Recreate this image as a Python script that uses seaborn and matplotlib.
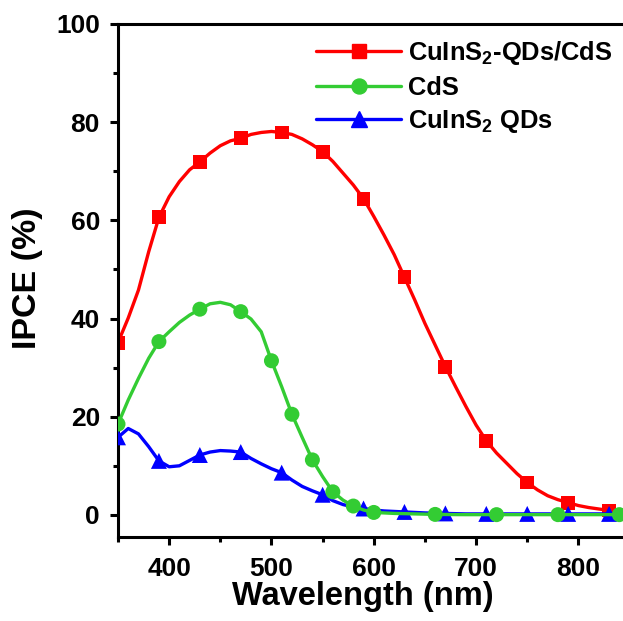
import matplotlib
matplotlib.use("Agg")
import matplotlib.pyplot as plt
from matplotlib.lines import Line2D
from matplotlib.ticker import MultipleLocator
import seaborn as sns

# ---- data ----
wavelength = list(range(350, 851, 10))

red_line = [35.1, 40.1, 45.8, 53.6, 60.6, 64.8, 67.9, 70.3, 71.9, 73.7, 75.2, 76.2, 76.7,
            77.5, 77.9, 78.1, 77.9, 77.5, 76.6, 75.4, 74.0, 72.0, 69.6, 67.2, 64.4, 60.8,
            57.0, 53.0, 48.4, 43.8, 39.0, 34.6, 30.2, 26.1, 22.1, 18.3, 15.1, 12.6, 10.5,
            8.4, 6.6, 5.1, 3.9, 3.1, 2.5, 1.9, 1.5, 1.2, 0.9, 0.6, 0.4]
green_line = [18.5, 23.4, 27.8, 31.9, 35.3, 37.3, 39.2, 40.7, 41.9, 43.0, 43.3, 42.8, 41.4,
              39.9, 37.3, 31.4, 26.1, 20.5, 15.8, 11.2, 7.8, 4.7, 3.0, 1.8, 1.0, 0.5,
              0.4, 0.3, 0.25, 0.2, 0.15, 0.1, 0.08, 0.06, 0.05, 0.05, 0.05, 0.05, 0.05,
              0.05, 0.05, 0.05, 0.05, 0.05, 0.05, 0.05, 0.05, 0.05, 0.05, 0.05, 0.05]
blue_line = [15.8, 17.6, 16.5, 13.9, 11.0, 9.8, 10.0, 11.1, 12.2, 12.8, 13.1, 13.0, 12.8,
             11.5, 10.4, 9.4, 8.6, 7.1, 5.8, 4.9, 4.1, 2.9, 2.1, 1.6, 1.3, 1.0,
             0.8, 0.7, 0.6, 0.5, 0.4, 0.35, 0.3, 0.25, 0.2, 0.2, 0.2, 0.2, 0.2,
             0.2, 0.2, 0.2, 0.2, 0.2, 0.2, 0.2, 0.2, 0.2, 0.2, 0.2, 0.2]

red_mx = [350, 390, 430, 470, 510, 550, 590, 630, 670, 710, 750, 790, 830]
red_my = [35.1, 60.6, 71.9, 76.7, 77.9, 74.0, 64.4, 48.4, 30.2, 15.1, 6.6, 2.5, 0.9]
green_mx = [350, 390, 430, 470, 500, 520, 540, 560, 580, 600, 660, 720, 780, 840]
green_my = [18.5, 35.3, 41.9, 41.4, 31.4, 20.5, 11.2, 4.7, 1.8, 0.5, 0.1, 0.05, 0.05, 0.05]
blue_mx = [350, 390, 430, 470, 510, 550, 590, 630, 670, 710, 750, 790, 830]
blue_my = [15.8, 11.0, 12.2, 12.8, 8.6, 4.1, 1.3, 0.6, 0.3, 0.2, 0.2, 0.2, 0.2]

labels = [r"CuInS$_\mathbf{2}$-QDs/CdS", "CdS", r"CuInS$_\mathbf{2}$ QDs"]
colors = ["#FF0000", "#33CC33", "#0000FF"]
xticks = [400, 500, 600, 700, 800]
yticks = [0, 20, 40, 60, 80, 100]

# ---- style ----
sns.set_theme(style="ticks")
plt.rcParams["font.family"] = ["Liberation Sans", "DejaVu Sans"]
plt.rcParams["font.weight"] = "bold"
plt.rcParams["axes.labelweight"] = "bold"
plt.rcParams["text.color"] = "black"
plt.rcParams["axes.labelcolor"] = "black"
plt.rcParams["xtick.color"] = "black"
plt.rcParams["ytick.color"] = "black"
plt.rcParams["mathtext.fontset"] = "custom"
plt.rcParams["mathtext.rm"] = "Liberation Sans:bold"
plt.rcParams["mathtext.bf"] = "Liberation Sans:bold"
plt.rcParams["mathtext.it"] = "Liberation Sans:bold"

fig = plt.figure(figsize=(6.23, 6.21), dpi=100)
ax = fig.add_axes([0.1894, 0.1353, 0.8106, 0.8261])

lw = 2.4
ms_sq, ms_ci, ms_tr = 10.0, 10.8, 11.5
series = [
    (red_line, red_mx, red_my, "s", ms_sq, colors[0], 2),
    (blue_line, blue_mx, blue_my, "^", ms_tr, colors[2], 3),
    (green_line, green_mx, green_my, "o", ms_ci, colors[1], 4),
]
for line, mx, my, mk, ms, c, z in series:
    sns.lineplot(x=wavelength, y=line, color=c, linewidth=lw, ax=ax, zorder=z)
    sns.scatterplot(x=mx, y=my, marker=mk, s=ms ** 2, color=c, edgecolor="none",
                    linewidth=0, ax=ax, zorder=z + 0.5)

ax.set_xlim(350, 843.6)
ax.set_ylim(-4.5, 100)
ax.set_xticks(xticks)
ax.set_yticks(yticks)
ax.xaxis.set_minor_locator(MultipleLocator(50))
ax.yaxis.set_minor_locator(MultipleLocator(10))

for side in ["left", "bottom", "top"]:
    ax.spines[side].set_linewidth(2.2)
    ax.spines[side].set_color("black")
ax.spines["right"].set_visible(False)

ax.tick_params(which="major", direction="out", length=6, width=2.2, labelsize=19,
               pad=7, colors="black", top=False, right=False)
ax.tick_params(axis="x", which="major", pad=8.5)
ax.tick_params(which="minor", direction="out", length=3.5, width=2.2,
               top=False, right=False, colors="black")
for t in ax.get_xticklabels() + ax.get_yticklabels():
    t.set_fontweight("bold")

ax.set_xlabel("Wavelength (nm)", fontsize=23.5, fontweight="bold", color="black")
ax.set_ylabel("IPCE (%)", fontsize=24.5, fontweight="bold", color="black")
# label positions measured on the reference (pixels -> axes fraction)
ax.xaxis.set_label_coords((363 - 118) / 505.0, (537 - 605) / 513.0)
ax.xaxis.label.set_va("baseline")
ax.yaxis.set_label_coords((27.5 - 118) / 505.0, (537 - 278) / 513.0)
ax.yaxis.label.set_va("center")

handles = [
    Line2D([], [], color=colors[0], lw=lw, marker="s", ms=ms_sq),
    Line2D([], [], color=colors[1], lw=lw, marker="o", ms=ms_ci),
    Line2D([], [], color=colors[2], lw=lw, marker="^", ms=ms_tr),
]
ax.legend(handles, labels, loc="upper left", bbox_to_anchor=(0.508, 0.9365),
          bbox_transform=fig.transFigure, frameon=False, fontsize=18.4,
          handlelength=3.3, handletextpad=0.3, labelspacing=0.32,
          borderpad=0, borderaxespad=0)

fig.savefig("out.png", dpi=100)
